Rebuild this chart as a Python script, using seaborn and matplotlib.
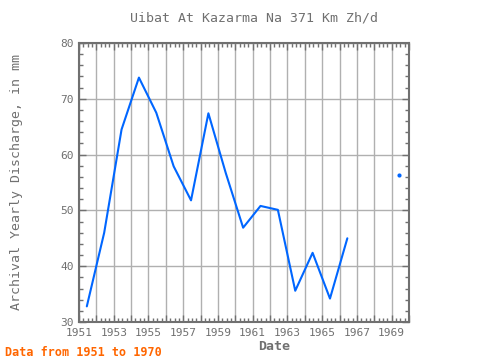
import numpy as np
import pandas as pd
import matplotlib
matplotlib.use("Agg")
import matplotlib.pyplot as plt
from matplotlib.ticker import MultipleLocator
import seaborn as sns

years = [1951, 1952, 1953, 1954, 1955, 1956, 1957, 1958, 1959, 1960,
         1961, 1962, 1963, 1964, 1965, 1966, 1967, 1968, 1969]
discharge = [32.8, 46.0, 64.5, 73.8, 67.5, 57.9, 51.8, 67.4, 56.7, 46.9,
             50.8, 50.1, 35.6, 42.4, 34.2, 45.0, np.nan, np.nan, 56.3]
title = "Uibat At Kazarma Na 371 Km Zh/d"
ylabel = "Archival Yearly Discharge, in mm"
xlabel = "Date"
note = "Data from 1951 to 1970"

sns.set_style("white")
plt.rcParams['font.family'] = ['DejaVu Sans Mono']

df = pd.DataFrame({"year": years, "value": discharge})
df["x"] = df["year"] + 0.45
df["seg"] = df["value"].isna().cumsum()
d = df.dropna()
counts = d.groupby("seg")["value"].transform("size")

fig = plt.figure(figsize=(4.8, 3.6), dpi=100)
ax = fig.add_axes([79/480, 1-322/360, (409-79)/480, (322-43)/360])

line_color = "#0066ff"
sns.lineplot(data=d[counts > 1], x="x", y="value", units="seg", estimator=None,
             color=line_color, linewidth=1.5, ax=ax, legend=False)
sns.scatterplot(data=d[counts == 1], x="x", y="value", color=line_color,
                s=9, linewidth=0, ax=ax, legend=False)

ax.set_xlim(1951, 1970)
ax.set_ylim(30, 80)
ax.xaxis.set_minor_locator(MultipleLocator(0.25))
ax.yaxis.set_major_locator(MultipleLocator(10))
ax.yaxis.set_minor_locator(MultipleLocator(2))
ax.set_xticks(list(range(1951, 1971)))
ax.set_xticklabels([str(y) if (y - 1951) % 2 == 0 and y < 1970 else "" for y in range(1951, 1971)])
ax.grid(True, which="major", color="#b0b0b0", linewidth=1)
ax.set_axisbelow(True)

spine_c = "#707070"
for s in ax.spines.values():
    s.set_color(spine_c)
    s.set_linewidth(1.5)
ax.tick_params(which="both", direction="in", top=True, right=True, bottom=True, left=True,
               color=spine_c, labelcolor="#707070", labelsize=8, width=1)
ax.tick_params(which="major", length=5, pad=4)
ax.tick_params(which="minor", length=3)
ax.set_xlabel("")
ax.set_ylabel("")

fig.text(254/480, 1-18/360, title, ha="center", va="center", fontsize=9.5, color="#707070")
fig.text(274/480, 1-347/360, xlabel, ha="center", va="center", fontsize=9.5, color="#707070", fontweight="bold")
fig.text(17/480, 1-182/360, ylabel, ha="center", va="center", rotation=90, fontsize=9.5, color="#707070")
fig.text(5/480, 1-352/360, note, ha="left", va="center", fontsize=8.5, color="#ff6600", fontweight="bold")

fig.savefig("out.png", dpi=100)
